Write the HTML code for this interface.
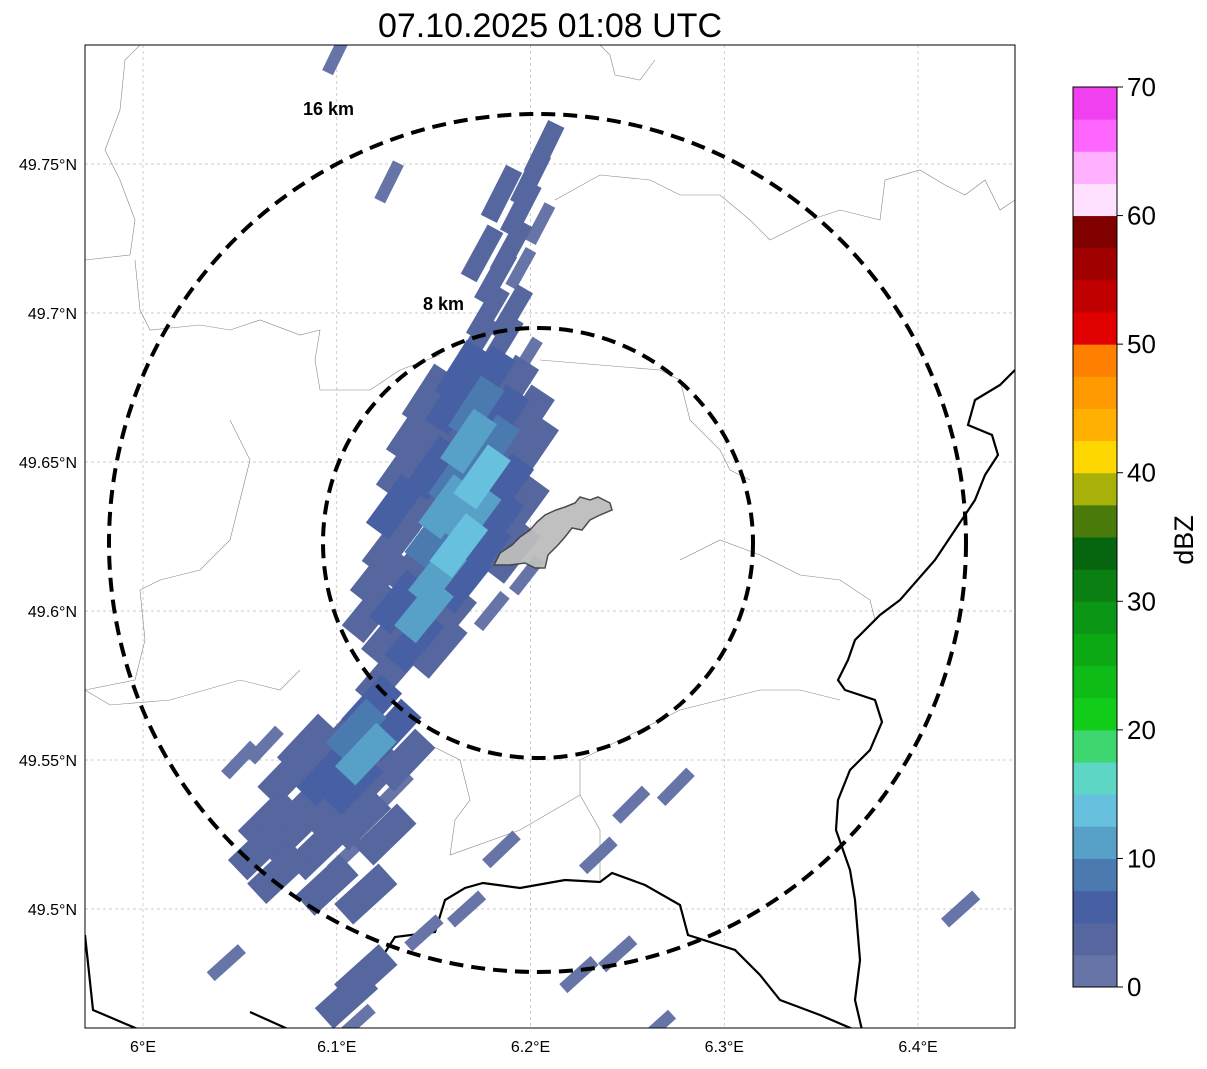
<!DOCTYPE html>
<html><head><meta charset="utf-8"><style>
body{margin:0;background:#fff;font-family:"Liberation Sans",sans-serif}
svg text{font-family:"Liberation Sans",sans-serif}
</style></head><body>
<svg id="chart" width="1207" height="1064" xmlns="http://www.w3.org/2000/svg">
<defs><clipPath id="mapclip"><rect x="85" y="45" width="930" height="983"/></clipPath></defs>
<rect width="1207" height="1064" fill="#fff"/>
<text x="550" y="37" font-size="34" text-anchor="middle">07.10.2025 01:08 UTC</text>
<g id="map" clip-path="url(#mapclip)">
<g id="grid"></g>
<g fill="none" stroke="#888" stroke-width="0.6">
<path d="M85,260 L130,255 L135,220 L120,180 L105,150 L120,110 L125,60 L140,45"/>
<path d="M135,260 L140,310 L150,330 L200,325 L230,330 L260,320 L300,335 L320,330 L315,360 L320,390 L370,390 L400,370 L440,355"/>
<path d="M540,360 L600,365 L660,370 L680,380 L690,420 L720,450 L730,470 L750,480"/>
<path d="M230,420 L250,460 L240,500 L230,540 L200,570 L160,580 L140,590 L145,640 L135,680 L85,690"/>
<path d="M85,690 L110,705 L170,700 L240,680 L280,690 L300,670"/>
<path d="M420,740 L460,760 L470,800 L455,820 L450,855 L520,830 L580,795 L600,830 L600,880"/>
<path d="M580,795 L580,760 L620,740 L680,710 L720,700 L760,690 L800,690 L840,700"/>
<path d="M680,560 L720,540 L760,555 L800,575 L840,580 L870,600 L875,620 L855,640"/>
<path d="M555,200 L600,175 L650,180 L680,195 L720,195 L750,220 L770,240 L810,220 L840,210 L880,220 L885,180 L920,170 L945,185 L965,195 L985,180 L1000,210 L1015,200"/>
<path d="M600,45 L610,55 L615,75 L640,80 L655,60"/>
</g>
<g fill="none" stroke="#000" stroke-width="2.2">
<path d="M85,935 L93,1010 L140,1030"/>
<path d="M250,1012 L290,1030"/>
<path d="M337,1005 L355,990 L380,960 L395,937 L435,932 L445,900 L465,888 L483,883 L520,888 L565,880 L600,882 L612,873 L645,885 L680,905 L688,935 L735,950 L760,975 L780,1000 L820,1015 L855,1030"/>
<path d="M1015,370 L1000,385 L975,400 L968,425 L992,435 L998,455 L985,475 L975,500 L955,530 L935,560 L900,600 L880,615 L855,640 L848,660 L838,680 L845,690 L875,700 L882,722 L870,750 L850,770 L838,800 L836,830 L850,870 L855,900 L860,960 L855,1000 L862,1030"/>
</g>
<g id="echoes"></g>
<path d="M494,565 L500,553 L512,545 L520,537 L530,530 L537,522 L545,515 L556,510 L565,507 L575,503 L580,497 L590,500 L598,497 L610,503 L612,510 L600,515 L590,520 L582,530 L572,528 L565,537 L558,545 L548,555 L545,568 L535,568 L525,563 L510,565 Z" fill="#bdbdbd" stroke="#444" stroke-width="1.5" opacity="0.95"/>
<ellipse cx="537.5" cy="543" rx="428.5" ry="429" fill="none" stroke="#000" stroke-width="4" stroke-dasharray="14,8"/>
<ellipse cx="538" cy="543" rx="215" ry="215" fill="none" stroke="#000" stroke-width="4" stroke-dasharray="14,8"/>
</g>
<text x="303" y="115" font-size="18" font-weight="bold">16 km</text>
<text x="423" y="310" font-size="18" font-weight="bold">8 km</text>
<rect x="85" y="45" width="930" height="983" fill="none" stroke="#000" stroke-width="1"/>
<g id="axes"></g>
<g id="cbar"></g>
<text transform="translate(1193,540) rotate(-90)" font-size="27" text-anchor="middle">dBZ</text>
</svg>
<script>
const lonTicks=[6.0,6.1,6.2,6.3,6.4];
const lonLabels=["6°E","6.1°E","6.2°E","6.3°E","6.4°E"];
const latTicks=[49.75,49.7,49.65,49.6,49.55,49.5];
const latLabels=["49.75°N","49.7°N","49.65°N","49.6°N","49.55°N","49.5°N"];
const cbarTicks=[0,10,20,30,40,50,60,70];
const cbarColors=["#6674a8","#56669f","#4760a4","#4a7ab0","#57a0c8","#66c0de","#5ed6c6","#3ed66e","#12cc1a","#0fbb16","#0da915","#0c9616","#0a7f12","#066610","#4a7a0a","#a8b00a","#ffd700","#ffb000","#ff9900","#ff7f00","#e00000","#c00000","#a00000","#800000","#ffe0ff","#ffb0ff","#ff66ff","#f040f0"];
const cellLon=[6.207,6.200,6.195,6.205,6.190,6.182,6.195,6.178,6.190,6.172,6.185,6.198,
6.165,6.178,6.190,6.160,6.172,6.185,6.198,6.155,6.168,6.180,6.192,6.150,6.162,6.175,6.187,6.145,6.157,6.170,6.182,6.150,6.163,6.175,6.140,6.152,6.165,6.132,6.145,6.157,6.128,6.140,6.152,
6.125,6.118,6.110,6.100,6.115,6.095,6.108,6.120,6.085,6.100,6.112,6.075,6.090,6.105,6.070,6.095,6.130,
6.148,6.140,6.135,6.130,6.128,6.122,6.118,6.200,6.195,6.190,
6.085,6.075,6.065,6.060,6.128,6.135,6.125,6.115,6.185,6.175,
6.127,6.050,6.063,6.043,6.115,6.105,6.110,6.145,6.167,6.185,6.235,6.252,6.275,6.225,6.245,6.265,6.422,6.198,6.180,6.100];
const cellLat=[49.755,49.745,49.735,49.730,49.722,49.712,49.715,49.700,49.700,49.690,49.690,49.685,
49.680,49.678,49.675,49.670,49.668,49.665,49.665,49.660,49.657,49.655,49.652,49.648,49.645,49.645,49.642,49.637,49.635,49.632,49.630,49.625,49.622,49.620,49.615,49.612,49.610,49.603,49.600,49.598,49.592,49.590,49.588,
49.578,49.568,49.560,49.555,49.552,49.545,49.542,49.545,49.535,49.532,49.530,49.525,49.520,49.518,49.512,49.508,49.540,
49.672,49.660,49.648,49.635,49.622,49.612,49.600,49.655,49.635,49.620,
49.555,49.545,49.530,49.520,49.560,49.550,49.525,49.505,49.740,49.720,
49.744,49.550,49.555,49.482,49.478,49.470,49.462,49.492,49.500,49.520,49.518,49.535,49.541,49.478,49.485,49.460,49.500,49.612,49.600,49.787];
const cellDbz=[3,4,3,2,4,3,2,3,4,3,3,2,
5,7,4,6,9,5,3,4,11,8,4,5,9,13,6,3,10,12,5,9,14,6,4,10,7,5,11,4,3,6,3,
3,5,9,4,12,5,6,3,3,4,3,3,3,2,3,3,2,
4,3,4,5,4,3,4,3,4,3,
4,3,3,3,5,3,3,3,3,3,
2,2,2,2,3,4,2,2,2,2,2,2,2,2,2,2,2,2,2,2];
const NS="http://www.w3.org/2000/svg";
function xOf(lon){return 143+(lon-6.0)*1937.5;}
function yOf(lat){return 164-(lat-49.75)*2980;}
function cbY(v){return 987-v*(900/70);}
function colorOf(v){return cbarColors[Math.max(0,Math.min(27,Math.floor(v/2.5)))];}
function angOf(lat){const t=Math.max(0,Math.min(1,(lat-49.50)/0.25));return -42-t*22;}
function mk(tag,attrs,parent){const e=document.createElementNS(NS,tag);for(const k in attrs)e.setAttribute(k,attrs[k]);parent.appendChild(e);return e;}
const grid=document.getElementById('grid'),axes=document.getElementById('axes'),echoes=document.getElementById('echoes'),cbar=document.getElementById('cbar');
lonTicks.forEach((t,i)=>{const x=xOf(t);
 const l=mk('line',{x1:x,x2:x,y1:45,y2:1028,stroke:'#bbb','stroke-width':0.7,'stroke-dasharray':'3,3'},grid);
 
 
 const tx=mk('text',{x:x,y:1052,'font-size':16,'text-anchor':'middle'},axes);tx.textContent=lonLabels[i];
 
 
});
latTicks.forEach((t,i)=>{const y=yOf(t);
 const l=mk('line',{x1:85,x2:1015,y1:y,y2:y,stroke:'#bbb','stroke-width':0.7,'stroke-dasharray':'3,3'},grid);
 
 
 const tx=mk('text',{x:77,y:y+6,'font-size':16,'text-anchor':'end'},axes);tx.textContent=latLabels[i];
 
 
});
const order=cellDbz.map((v,i)=>i).sort((a,b)=>cellDbz[a]-cellDbz[b]);
order.forEach(i=>{const x=xOf(cellLon[i]),y=yOf(cellLat[i]);
 const thin=cellDbz[i]<=2;
 const top=cellLat[i]>49.685;
 const w=thin?42:(top?56:60),h=thin?12:(top?18:28);
 const r=mk('rect',{x:x-w/2,y:y-h/2,width:w,height:h,fill:colorOf(cellDbz[i]),transform:`rotate(${angOf(cellLat[i])} ${x} ${y})`},echoes);
 
 
});
cbarColors.forEach((c,i)=>{const y0=cbY((i+1)*2.5),y1=cbY(i*2.5);
 const r=mk('rect',{x:1073,y:y0,width:44,height:y1-y0+0.5,fill:c},cbar);
 
 
});
mk('rect',{x:1073,y:87,width:44,height:900,fill:'none',stroke:'#000','stroke-width':1},cbar);
cbarTicks.forEach(t=>{const y=cbY(t);
 mk('line',{x1:1117,x2:1123,y1:y,y2:y,stroke:'#000'},cbar);
 const tx=mk('text',{x:1127,y:y+9,'font-size':26},cbar);tx.textContent=t;
 
 
});
</script>
</body></html>
